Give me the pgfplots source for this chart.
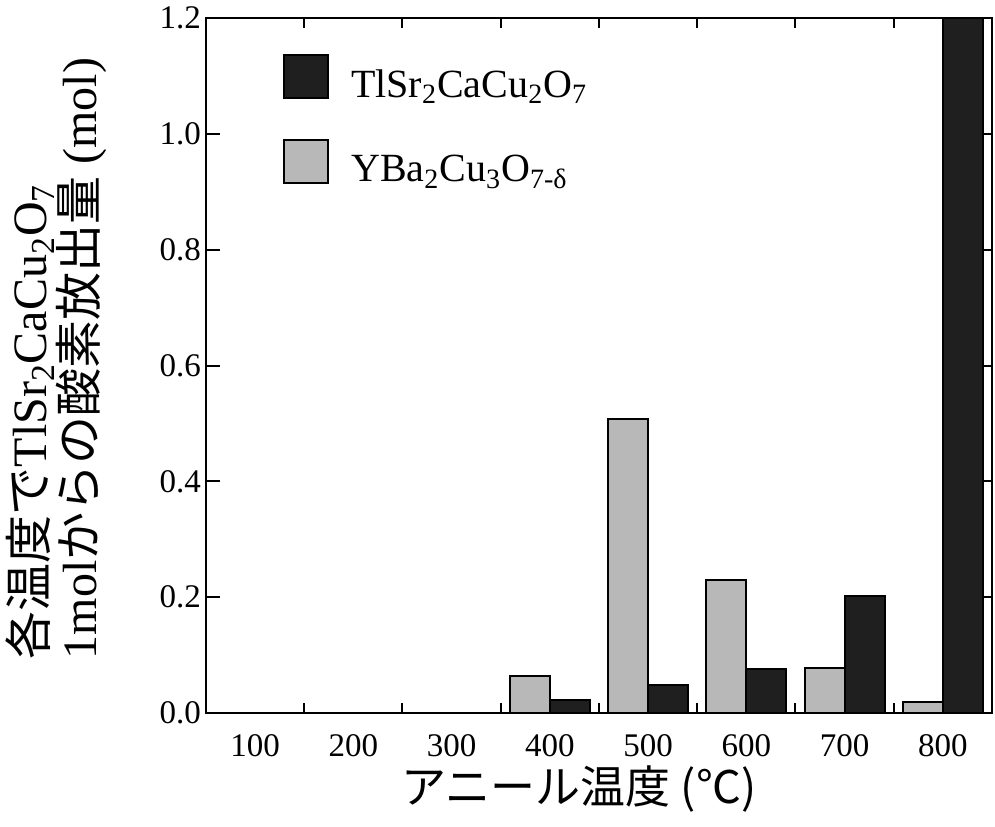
\documentclass[border=0pt]{standalone}
\usepackage{fontspec}
\setmainfont{Liberation Serif}
\newfontfamily\jp{Noto Sans CJK JP}
\usepackage{pgfplots}
\pgfplotsset{compat=1.18}
\pgfplotsset{sqleg/.style={legend image code/.code={\draw[##1, line width=1pt] (0pt,-6.5pt) rectangle (22pt,15pt);\path (31pt,0pt);}}}
\begin{document}
\begin{tikzpicture}
\begin{axis}[
  name=ax,
  scale only axis, width=393pt, height=347.5pt,
  xmin=0.5, xmax=8.5, ymin=0, ymax=1.2,
  axis line style={line width=1.2pt},
  xtick={1,2,3,4,5,6,7,8},
  xticklabels={100,200,300,400,500,600,700,800},
  minor xtick={1.5,2.5,3.5,4.5,5.5,6.5,7.5},
  major x tick style={draw=none},
  ytick={0,0.2,0.4,0.6,0.8,1.0,1.2},
  /pgf/number format/assume math mode=true,
  tick align=inside,
  major tick length=7pt,
  minor tick length=5pt,
  tick style={line width=1pt, black},
  tick label style={font=\fontsize{16.5}{19}\selectfont},
  xticklabel style={anchor=center, yshift=-16.5pt, inner sep=0.5pt},
  yticklabel style={xshift=1pt, /pgf/number format/.cd, fixed, fixed zerofill, precision=1},
  xlabel={{\jp アニール温度 (℃)}},
  xlabel style={font=\fontsize{22.5}{25}\selectfont, inner sep=0pt, at={(axis description cs:0.5,0)}, anchor=center, yshift=-38pt, xshift=-10pt},
  ylabel={{\jp 各温度で}TlSr\textsubscript{2}CaCu\textsubscript{2}O\textsubscript{7}\\1mol{\jp からの酸素放出量} (mol)},
  ylabel style={font=\fontsize{24}{25}\selectfont, align=left, at={(axis description cs:-0.19,0.51)}, anchor=center},
  legend style={draw=none, fill=none, at={(0.09,0.955)}, anchor=north west,
    font=\fontsize{20}{24}\selectfont, row sep=17.5pt, cells={anchor=west}},
  clip=true,
]
\addplot[ybar, bar width=20pt, bar shift=10pt, fill=black!88, draw=black, line width=1pt, sqleg]
  coordinates {(4,0.022) (5,0.048) (6,0.076) (7,0.202) (8,1.2)};
\addlegendentry{TlSr\textsubscript{2}CaCu\textsubscript{2}O\textsubscript{7}}
\addplot[ybar, bar width=20pt, bar shift=-10pt, fill=black!28, draw=black, line width=1pt, sqleg]
  coordinates {(4,0.064) (5,0.508) (6,0.230) (7,0.078) (8,0.019)};
\addlegendentry{YBa\textsubscript{2}Cu\textsubscript{3}O\textsubscript{7-δ}}
\end{axis}
\pgfresetboundingbox
\path (-103pt,-56.5pt) rectangle (394.5pt,356.5pt);
\end{tikzpicture}
\end{document}
